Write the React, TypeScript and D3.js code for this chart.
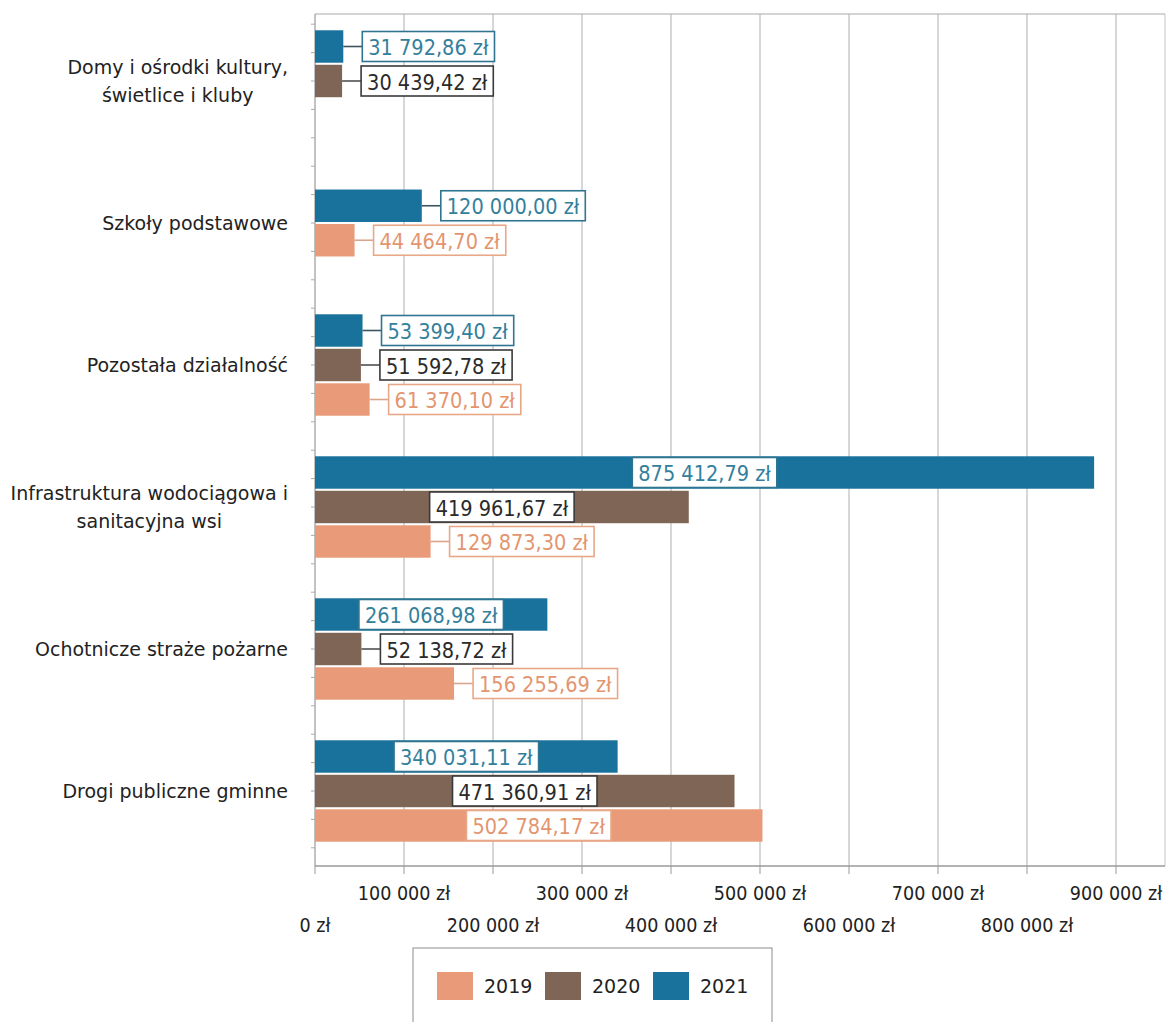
import React from 'react';
import * as d3 from 'd3';

// ---------- data ----------
const categoryLines: string[][] = [
  ['Domy i ośrodki kultury,', 'świetlice i kluby'],
  ['Szkoły podstawowe'],
  ['Pozostała działalność'],
  ['Infrastruktura wodociągowa i', 'sanitacyjna wsi'],
  ['Ochotnicze straże pożarne'],
  ['Drogi publiczne gminne'],
];
const values2021: (number | null)[] = [31792.86, 120000.0, 53399.4, 875412.79, 261068.98, 340031.11];
const values2020: (number | null)[] = [30439.42, null, 51592.78, 419961.67, 52138.72, 471360.91];
const values2019: (number | null)[] = [0, 44464.7, 61370.1, 129873.3, 156255.69, 502784.17];
const seriesKeys = ['2019', '2020', '2021'];
const xTicks = [0, 100000, 200000, 300000, 400000, 500000, 600000, 700000, 800000, 900000];

const seriesValues: Record<string, (number | null)[]> = {
  '2019': values2019,
  '2020': values2020,
  '2021': values2021,
};
const barOrder = ['2021', '2020', '2019'];

// ---------- style ----------
const W = 1170;
const H = 1022;
const plotLeft = 315;
const plotRight = 1165;
const plotTop = 14;
const plotBottom = 866;
const barColor: Record<string, string> = { '2019': '#e99a78', '2020': '#7f6556', '2021': '#18729b' };
const textColor: Record<string, string> = { '2019': '#e3956f', '2020': '#2a2a2a', '2021': '#33809c' };
const boxStroke: Record<string, string> = { '2019': '#e8a888', '2020': '#3a3a3a', '2021': '#2f7590' };
const lineColor: Record<string, string> = { '2019': '#d9a58d', '2020': '#505050', '2021': '#3c5560' };
const catFontSize = 19;
const catFont = `${catFontSize}px "DejaVu Sans"`;
const valFontSize = 21.5;
const valFont = `${valFontSize}px "DejaVu Sans Condensed"`;

const locale = d3.formatLocale({ decimal: ',', thousands: '\u00a0', grouping: [3], currency: ['', ' zł'] });
const fmtVal = (v: number) => locale.format(',.2f')(v) + ' zł';
const fmtTick = (v: number) => locale.format(',.0f')(v) + ' zł';

let ctx: CanvasRenderingContext2D | null = null;
function measure(text: string, font: string): number {
  if (!ctx) ctx = document.createElement('canvas').getContext('2d');
  if (!ctx) return text.length * 10;
  ctx.font = font;
  return ctx.measureText(text).width;
}

export default function App() {
  const x = d3.scaleLinear().domain([0, 900000]).range([plotLeft, 1116]);
  const y = d3
    .scaleBand<number>()
    .domain(categoryLines.map((_, i) => i))
    .range([10, 862]);
  const subStep = 34.5;

  const minorY = d3.range(10 + 14.2, 862, (862 - 10) / 30);

  return (
    <svg
      width={W}
      height={H}
      style={{ position: 'absolute', left: 0, top: 0, background: '#fff' }}
      xmlns="http://www.w3.org/2000/svg"
    >
      <rect x={0} y={0} width={W} height={H} fill="#fff" />
      {/* grid */}
      {xTicks.slice(1).map((t) => (
        <line key={'g' + t} x1={x(t)} x2={x(t)} y1={plotTop} y2={plotBottom} stroke="#bdbdbd" strokeWidth={1.2} />
      ))}
      <line x1={plotLeft} x2={plotRight} y1={plotTop} y2={plotTop} stroke="#aaa" strokeWidth={1.2} />
      <line x1={plotRight} x2={plotRight} y1={plotTop} y2={plotBottom} stroke="#c4c4c4" strokeWidth={1} />
      {/* left axis */}
      <line x1={plotLeft} x2={plotLeft} y1={plotTop} y2={plotBottom} stroke="#999" strokeWidth={1.2} />
      {minorY.map((v, i) => (
        <line key={'my' + i} x1={plotLeft - 4} x2={plotLeft} y1={v} y2={v} stroke="#aaa" strokeWidth={1} />
      ))}
      {/* bottom axis */}
      <line x1={plotLeft} x2={plotRight} y1={plotBottom} y2={plotBottom} stroke="#9a9a9a" strokeWidth={1.3} />
      {xTicks.map((t) => (
        <line key={'t' + t} x1={x(t)} x2={x(t)} y1={plotBottom} y2={plotBottom + 8} stroke="#999" strokeWidth={1} />
      ))}
      {xTicks.map((t, i) => (
        <text
          key={'tl' + t}
          x={x(t)}
          y={i % 2 === 1 ? 893 : 925}
          textAnchor="middle"
          dominantBaseline="central"
          fontFamily='"DejaVu Sans Condensed"'
          fontSize={19.5}
          fill="#222"
        >
          {fmtTick(t)}
        </text>
      ))}

      {/* category labels */}
      {categoryLines.map((lines, i) => {
        const c = (y(i) as number) + y.bandwidth() / 2;
        const maxW = Math.max(...lines.map((l) => measure(l, catFont)));
        const cx = 288 - maxW / 2;
        const lh = 28;
        return (
          <text
            key={'c' + i}
            x={cx}
            textAnchor="middle"
            fontFamily='"DejaVu Sans"'
            fontSize={catFontSize}
            fill="#222"
          >
            {lines.map((l, j) => (
              <tspan key={j} x={cx} y={c + (j - (lines.length - 1) / 2) * lh} dominantBaseline="central">
                {l}
              </tspan>
            ))}
          </text>
        );
      })}

      {/* bars */}
      {categoryLines.map((_, i) => {
        const c = (y(i) as number) + y.bandwidth() / 2;
        const present = barOrder.filter((k) => seriesValues[k][i] !== null);
        const sub = d3
          .scaleBand<string>()
          .domain(present)
          .range([c - (present.length * subStep) / 2, c + (present.length * subStep) / 2])
          .paddingInner(0.06)
          .paddingOuter(0.03);
        return (
          <g key={'b' + i}>
            {present.map((k) => {
              const v = seriesValues[k][i] as number;
              const by = sub(k) as number;
              const bh = sub.bandwidth();
              const bx = x(0);
              const bw = x(v) - x(0);
              const midY = by + bh / 2;
              if (v <= 0) return null;
              const label = fmtVal(v);
              const tw = measure(label, valFont);
              const boxW = tw + 12;
              const boxH = 30;
              const inside = boxW + 6 <= bw;
              const boxX = inside ? bx + bw / 2 - boxW / 2 : bx + bw + 19;
              return (
                <g key={k}>
                  <rect x={bx} y={by} width={bw} height={bh} fill={barColor[k]} />
                  {!inside && (
                    <line x1={bx + bw} x2={boxX} y1={midY} y2={midY} stroke={lineColor[k]} strokeWidth={1.6} />
                  )}
                  <rect
                    x={boxX}
                    y={midY - boxH / 2}
                    width={boxW}
                    height={boxH}
                    fill="#fff"
                    stroke={boxStroke[k]}
                    strokeWidth={1.6}
                  />
                  <text
                    x={boxX + boxW / 2}
                    y={midY + 1}
                    textAnchor="middle"
                    dominantBaseline="central"
                    fontFamily='"DejaVu Sans Condensed"'
                    fontSize={valFontSize}
                    fill={textColor[k]}
                  >
                    {label}
                  </text>
                </g>
              );
            })}
          </g>
        );
      })}

      {/* legend */}
      <rect x={413} y={948} width={359} height={100} fill="none" stroke="#a0a0a0" strokeWidth={1.2} />
      {seriesKeys.map((k, i) => {
        const lx = 437 + i * 108;
        return (
          <g key={'l' + k}>
            <rect x={lx} y={972} width={36} height={28} fill={barColor[k]} />
            <text
              x={lx + 47}
              y={986}
              dominantBaseline="central"
              fontFamily='"DejaVu Sans"'
              fontSize={19}
              fill="#222"
            >
              {k}
            </text>
          </g>
        );
      })}
    </svg>
  );
}
